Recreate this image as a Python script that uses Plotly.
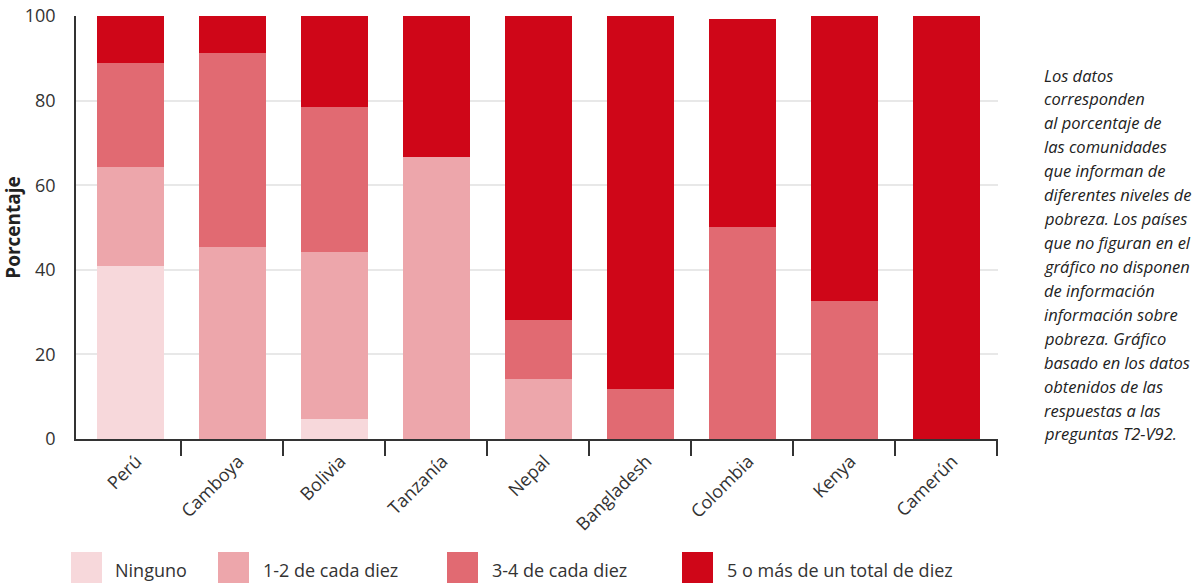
import plotly.graph_objects as go

# ---------------- data ----------------
countries = ["Perú", "Camboya", "Bolivia", "Tanzanía", "Nepal",
             "Bangladesh", "Colombia", "Kenya", "Camerún"]
series_names = ["Ninguno", "1-2 de cada diez", "3-4 de cada diez",
                "5 o más de un total de diez"]
ninguno = [41.0, 0, 4.8, 0, 0, 0, 0, 0, 0]
uno_dos = [23.2, 45.3, 39.5, 66.6, 14.3, 0, 0, 0, 0]
tres_cuatro = [24.8, 45.9, 34.1, 0, 13.9, 11.9, 50.2, 32.7, 0]
cinco_mas = [11.0, 8.8, 21.6, 33.4, 71.8, 88.1, 49.2, 67.3, 100.0]
y_ticks = [0, 20, 40, 60, 80, 100]

colors = ["#f7d8db", "#eda6ab", "#e16a72", "#cf0618"]

note_lines = [
    "Los datos", "corresponden", "al porcentaje de", "las comunidades",
    "que informan de", "diferentes niveles de", "pobreza. Los países",
    "que no figuran en el", "gráfico no disponen", "de información",
    "información sobre", "pobreza. Gráfico", "basado en los datos",
    "obtenidos de las", "respuestas a las", "preguntas T2-V92.",
]

# ---------------- layout geometry ----------------
FIG_W, FIG_H = 1204, 583
L, R, T, B = 76, 206, 16, 144
PW = FIG_W - L - R
PH = FIG_H - T - B


def px_x(px):
    return (px - L) / PW


def px_y(py):
    return (FIG_H - B - py) / PH


FONT = "Open Sans"
TXT = "#333333"

xpos = list(range(len(countries)))
values = [ninguno, uno_dos, tres_cuatro, cinco_mas]

fig = go.Figure()
for name, vals, col in zip(series_names, values, colors):
    fig.add_trace(go.Bar(
        x=xpos, y=vals, name=name,
        marker=dict(color=col, line=dict(width=0)),
        showlegend=False,
    ))

fig.update_layout(
    template="none",
    width=FIG_W, height=FIG_H,
    margin=dict(l=L, r=R, t=T, b=B, pad=0, autoexpand=False),
    paper_bgcolor="white", plot_bgcolor="white",
    barmode="stack", bargap=0.343,
    font=dict(family=FONT, size=18, color=TXT),
    showlegend=False,
)

fig.update_xaxes(
    automargin=False,
    range=[-0.534, 8.505],
    tickmode="array", tickvals=xpos, ticktext=countries,
    tickangle=-45, ticks="",
    tickfont=dict(family=FONT, size=18, color=TXT),
    showgrid=False, zeroline=False,
    showline=True, linecolor="#333333", linewidth=1.5,
    minor=dict(tickmode="array",
               tickvals=[i + 0.5 for i in xpos],
               ticks="outside", ticklen=15, tickwidth=1.5,
               tickcolor="#333333", showgrid=False),
    ticklabelstandoff=3,
    ticklabelshift=6,
)

fig.update_yaxes(
    automargin=False,
    range=[0, 100],
    tickmode="array", tickvals=y_ticks,
    ticks="", ticklabelstandoff=15,
    tickfont=dict(family=FONT, size=18, color=TXT),
    showgrid=True, gridcolor="#e8e8e8", gridwidth=1.5,
    zeroline=False,
    showline=True, linecolor="#333333", linewidth=1.5,
    title=dict(text="<b>Porcentaje</b>",
               font=dict(family=FONT, size=19, color="#222222"),
               standoff=8),
)

# ---------------- manual legend ----------------
sq_left = [71, 218, 447, 682]
txt_left = [113, 261, 490, 725]
shapes = []
annotations = []
for name, col, sx, tx in zip(series_names, colors, sq_left, txt_left):
    shapes.append(dict(
        type="rect", xref="paper", yref="paper",
        x0=px_x(sx), x1=px_x(sx + 31), y0=px_y(583), y1=px_y(552),
        fillcolor=col, line=dict(width=0), layer="above",
    ))
    annotations.append(dict(
        xref="paper", yref="paper", x=px_x(tx), y=px_y(570),
        xanchor="left", yanchor="middle", showarrow=False,
        text=name, font=dict(family=FONT, size=18, color=TXT),
    ))

# ---------------- side note ----------------
for i, line in enumerate(note_lines):
    annotations.append(dict(
        xref="paper", yref="paper", x=px_x(1042), y=px_y(75 + i * 23.93),
        xanchor="left", yanchor="middle", showarrow=False,
        text=f"<i>{line}</i>",
        font=dict(family=FONT, size=16.5, color="#222222"),
    ))

fig.update_layout(shapes=shapes, annotations=annotations)

fig.write_html("out.html")
